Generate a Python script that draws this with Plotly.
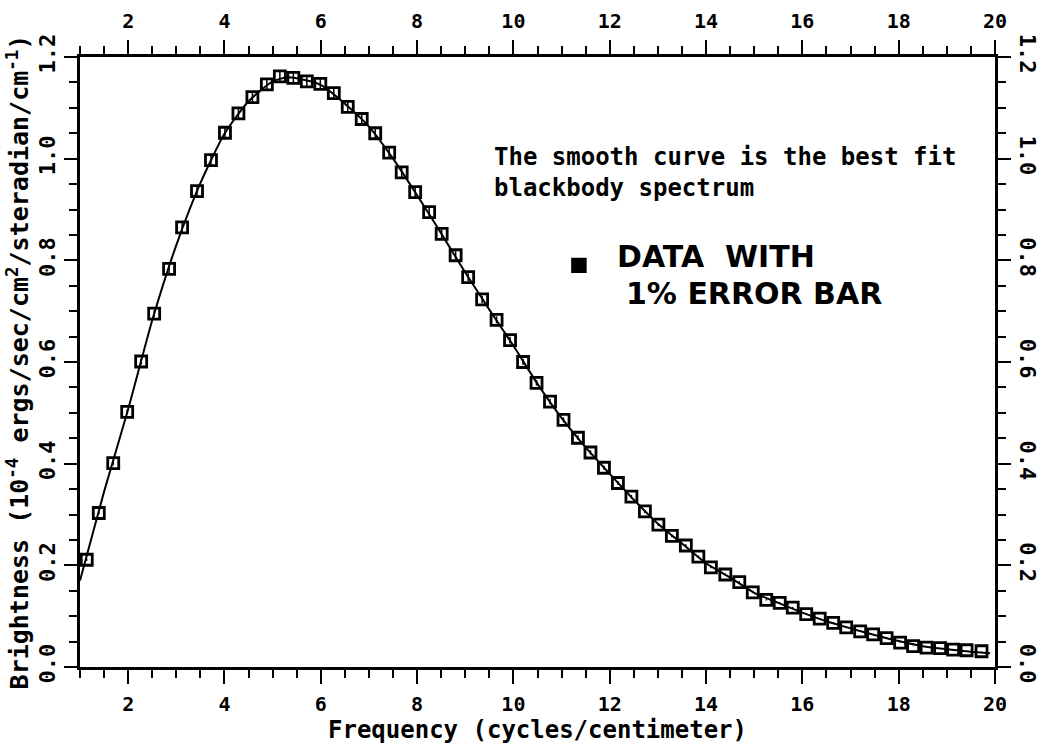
import plotly.graph_objects as go

# Measured sky brightness (10^-4 ergs/sec/cm^2/steradian/cm^-1) vs frequency (cm^-1)
freq = [1.14, 1.39, 1.69, 1.98, 2.27, 2.54, 2.85, 3.12, 3.43, 3.72,
        4.01, 4.29, 4.58, 4.88, 5.15, 5.43, 5.71, 5.99, 6.27, 6.56,
        6.85, 7.13, 7.42, 7.68, 7.96, 8.25, 8.51, 8.80, 9.06, 9.35,
        9.65, 9.93, 10.20, 10.48, 10.76, 11.04, 11.34, 11.60, 11.88, 12.17,
        12.45, 12.73, 13.01, 13.29, 13.58, 13.84, 14.10, 14.40, 14.69, 14.97,
        15.25, 15.53, 15.80, 16.08, 16.36, 16.64, 16.91, 17.20, 17.47, 17.75,
        18.03, 18.30, 18.58, 18.86, 19.13, 19.41, 19.72]
brightness = [0.211, 0.303, 0.401, 0.502, 0.601, 0.695, 0.783, 0.865, 0.936, 0.997,
              1.051, 1.089, 1.121, 1.146, 1.162, 1.159, 1.152, 1.147, 1.129, 1.102,
              1.078, 1.050, 1.012, 0.973, 0.934, 0.895, 0.852, 0.810, 0.767, 0.723,
              0.683, 0.643, 0.600, 0.559, 0.522, 0.486, 0.451, 0.422, 0.392, 0.362,
              0.335, 0.306, 0.280, 0.258, 0.239, 0.217, 0.196, 0.182, 0.167, 0.147,
              0.132, 0.126, 0.117, 0.104, 0.095, 0.087, 0.078, 0.070, 0.064, 0.057,
              0.048, 0.041, 0.038, 0.037, 0.034, 0.033, 0.031]

# Best-fit blackbody curve
fit_freq = [1.0, 1.5, 2.0, 2.5, 3.0, 3.5, 4.0, 4.5, 5.0, 5.3, 5.5, 6.0, 6.5, 7.0,
            7.5, 8.0, 8.5, 9.0, 9.5, 10.0, 10.5, 11.0, 11.5, 12.0, 12.5, 13.0,
            13.5, 14.0, 14.5, 15.0, 15.5, 16.0, 16.5, 17.0, 17.5, 18.0, 18.5,
            19.0, 19.5, 19.9]
fit_brightness = [0.170, 0.345, 0.507, 0.682, 0.830, 0.952, 1.049, 1.113, 1.152,
                  1.160, 1.158, 1.145, 1.108, 1.063, 1.000, 0.928, 0.853, 0.776,
                  0.703, 0.632, 0.557, 0.490, 0.432, 0.380, 0.329, 0.282, 0.243,
                  0.204, 0.176, 0.146, 0.126, 0.107, 0.090, 0.076, 0.063, 0.051,
                  0.041, 0.035, 0.030, 0.027]

x_ticks = [2, 4, 6, 8, 10, 12, 14, 16, 18, 20]
y_ticks = [0.0, 0.2, 0.4, 0.6, 0.8, 1.0, 1.2]
y_ticktext = ["0.0", "0.2", "0.4", "0.6", "0.8", "1.0", "1.2"]

MONO = "DejaVu Sans Mono"
INK = "black"

fig = go.Figure()

fig.add_trace(go.Scatter(
    x=fit_freq, y=fit_brightness, mode="lines",
    line=dict(color=INK, width=2, shape="spline", smoothing=0.6),
    hoverinfo="skip", showlegend=False,
))
fig.add_trace(go.Scatter(
    x=freq, y=brightness, mode="markers",
    marker=dict(symbol="square-open", size=11, color=INK, line=dict(width=2.8, color=INK)),
    error_y=dict(type="percent", value=1, color=INK, thickness=1.5, width=0),
    showlegend=False,
))
# carrier trace for the top / right mirrored axes
fig.add_trace(go.Scatter(
    x=fit_freq, y=fit_brightness, xaxis="x2", yaxis="y2", mode="lines",
    line=dict(color="rgba(0,0,0,0)", width=0), hoverinfo="skip", showlegend=False,
))

x_tick_font = dict(family=MONO, size=20, color=INK, weight="bold")
y_tick_font = dict(family=MONO, size=22, color=INK, weight="bold")
minor_x = dict(dtick=0.5, tick0=0, ticklen=8, tickwidth=2.2, tickcolor=INK, ticks="outside")
minor_y = dict(dtick=0.05, tick0=0, ticklen=8, tickwidth=2.2, tickcolor=INK, ticks="outside")

common_x = dict(range=[1, 20], tickmode="array", tickvals=x_ticks, ticks="outside",
                ticklen=14, tickwidth=2.2, tickcolor=INK, showline=True, linewidth=2.6,
                linecolor=INK, showgrid=False, zeroline=False, tickfont=x_tick_font,
                minor=minor_x, automargin=False)
common_y = dict(range=[0, 1.2], tickmode="array", tickvals=y_ticks, ticktext=y_ticktext,
                ticks="outside", ticklen=13, tickwidth=2.2, tickcolor=INK, showline=True,
                linewidth=2.6, linecolor=INK, showgrid=False, zeroline=False,
                tickfont=y_tick_font, minor=minor_y, ticklabelstandoff=0, automargin=False)

fig.update_layout(
    width=1045, height=746,
    margin=dict(l=80, r=50, t=57, b=79),
    paper_bgcolor="white", plot_bgcolor="white",
    font=dict(family=MONO, color=INK),
    xaxis=dict(**common_x, side="bottom", ticklabelstandoff=3,
               title=dict(text="Frequency (cycles/centimeter)",
                          font=dict(family=MONO, size=24, color=INK, weight="bold"),
                          standoff=4)),
    xaxis2=dict(**common_x, side="top", overlaying="x", anchor="y", ticklabelstandoff=4),
    yaxis=dict(**common_y, side="left", tickangle=-90,
               title=dict(text="Brightness (10<sup>-4</sup> ergs/sec/cm<sup>2</sup>/steradian/cm<sup>-1</sup>)",
                          font=dict(family=MONO, size=25, color=INK, weight="bold"),
                          standoff=0)),
    yaxis2=dict(**common_y, side="right", overlaying="y", anchor="x", tickangle=90),
)

fig.add_annotation(
    x=9.55, y=1.035, xref="x", yref="y", xanchor="left", yanchor="top",
    text="The smooth curve is the best fit<br>blackbody spectrum",
    showarrow=False, align="left",
    font=dict(family=MONO, size=24, color=INK, weight="bold"),
)

# hand-lettered key
fig.add_shape(type="rect", xref="x", yref="y", x0=11.22, x1=11.50, y0=0.777, y1=0.803,
              fillcolor=INK, line=dict(color=INK, width=2))
fig.add_annotation(
    x=12.1, y=0.808, xref="x", yref="y", xanchor="left", yanchor="middle",
    text="DATA  WITH", showarrow=False,
    font=dict(family="DejaVu Sans", size=30, color=INK, weight="bold"),
)
fig.add_annotation(
    x=12.3, y=0.735, xref="x", yref="y", xanchor="left", yanchor="middle",
    text="1% ERROR BAR", showarrow=False,
    font=dict(family="DejaVu Sans", size=30, color=INK, weight="bold"),
)

fig.write_html("out.html")
